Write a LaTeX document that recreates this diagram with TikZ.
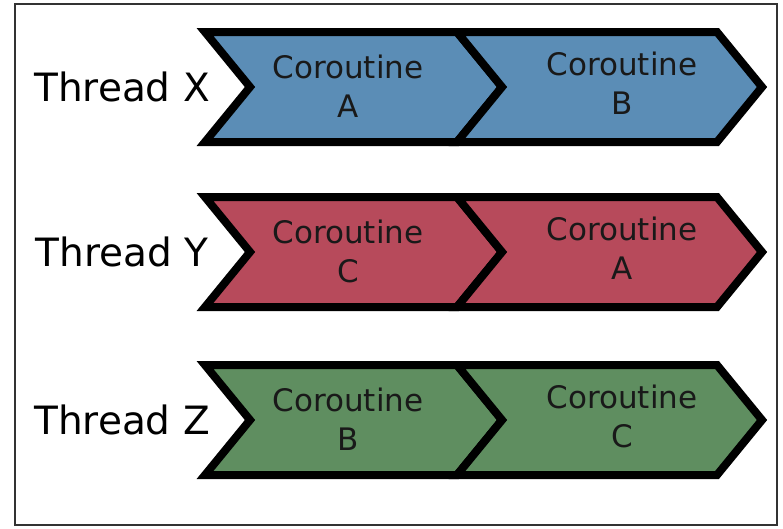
\documentclass[tikz,border=0pt]{standalone}
\usepackage{fontspec}
\setmainfont{DejaVu Sans}
\begin{document}
\begin{tikzpicture}[x=1pt,y=-1pt,
  stage/.style={draw=black,line width=8pt,line join=miter,miter limit=10},
  thread/.style={font=\fontsize{39}{44}\selectfont,text=black},
  corolabel/.style={font=\fontsize{31}{39}\selectfont,align=center,text=black!90},
  frame/.style={draw=black!80,line width=2.5pt}]
\definecolor{stageblue}{HTML}{5B8DB6}
\definecolor{stagered}{HTML}{B74A5B}
\definecolor{stagegreen}{HTML}{5F8E60}
\useasboundingbox (0,0) rectangle (783,528);
\draw[frame] (15,4) rectangle (777,525);
% one row: thread label and two chained coroutine chevrons
\foreach \row/\yc/\col/\th/\ca/\cb in {x/87/stageblue/X/A/B, y/252/stagered/Y/C/A, z/420/stagegreen/Z/B/C}{
  \begin{scope}[yshift=-\yc pt]
    \filldraw[stage,fill=\col] (205,-55) -- (457,-55) -- (502,0) -- (457,55) -- (205,55) -- (250,0) -- cycle;
    \filldraw[stage,fill=\col] (457,-55) -- (717,-55) -- (762,0) -- (717,55) -- (457,55) -- (502,0) -- cycle;
    \node[thread] (thread-\row) at (122,0) {Thread \th};
    \node[corolabel] (first-\row) at (348,-1) {Coroutine\\\ca};
    \node[corolabel] (second-\row) at (622,-4) {Coroutine\\\cb};
  \end{scope}
}
\end{tikzpicture}
\end{document}
